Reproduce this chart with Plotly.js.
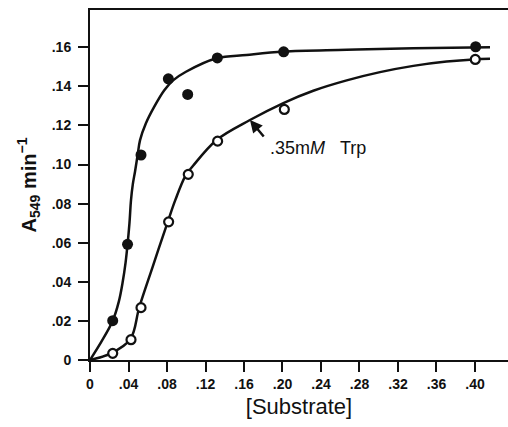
<!DOCTYPE html>
<html>
<head>
<meta charset="utf-8">
<script src="https://cdn.plot.ly/plotly-3.0.1.min.js"></script>
<style>html,body{margin:0;padding:0;background:#fff;}#chart{width:508px;height:427px;}</style>
</head>
<body>
<div id="chart"></div>
<script>
// Measured points
var ctrlX = [0.0236, 0.039, 0.053, 0.0814, 0.1015, 0.1323, 0.2012, 0.4007];
var ctrlY = [0.0201, 0.0592, 0.1049, 0.1439, 0.1359, 0.1546, 0.1577, 0.1603];
var trpX = [0.0236, 0.0426, 0.053, 0.0817, 0.1021, 0.1326, 0.2019, 0.4003];
var trpY = [0.0034, 0.0104, 0.0268, 0.0707, 0.095, 0.112, 0.1282, 0.1538];

// Fitted curves
var ctrlCurveX = [0, 0.012, 0.0236, 0.030, 0.034, 0.037, 0.039, 0.041, 0.0426, 0.0445, 0.0468, 0.0495, 0.052, 0.058, 0.0668, 0.0772, 0.0866, 0.0997, 0.1316, 0.1627, 0.2009, 0.2667, 0.3359, 0.4156];
var ctrlCurveY = [0, 0.0095, 0.0201, 0.030, 0.040, 0.050, 0.059, 0.070, 0.0818, 0.090, 0.0965, 0.1049, 0.1125, 0.121, 0.1296, 0.138, 0.1432, 0.1475, 0.1544, 0.1561, 0.1578, 0.1587, 0.1595, 0.160];
var trpCurveX = [0, 0.0218, 0.0419, 0.0512, 0.0651, 0.0807, 0.0886, 0.0989, 0.1073, 0.1316, 0.1662, 0.2009, 0.232, 0.2667, 0.3013, 0.3359, 0.3705, 0.3983, 0.4156];
var trpCurveY = [0, 0.0034, 0.0106, 0.027, 0.0477, 0.0706, 0.0818, 0.094, 0.0995, 0.1126, 0.1228, 0.1315, 0.1378, 0.1431, 0.1473, 0.1505, 0.1527, 0.1538, 0.1541];

var xTickVals = [0, 0.04, 0.08, 0.12, 0.16, 0.20, 0.24, 0.28, 0.32, 0.36, 0.40];
var xTickText = ["0", ".04", ".08", ".12", ".16", ".20", ".24", ".28", ".32", ".36", ".40"];
var yTickVals = [0, 0.02, 0.04, 0.06, 0.08, 0.10, 0.12, 0.14, 0.16];
var yTickText = ["0", ".02", ".04", ".06", ".08", ".10", ".12", ".14", ".16"];

var labelText = ".35m<i>M</i>\u00a0\u00a0\u00a0Trp";
var arrowTip = [0.1662, 0.1228];
var labelPos = [0.1849, 0.1085];

var tickFont = {family: "Liberation Sans, Arial, sans-serif", size: 14, color: "#111", weight: "bold"};

var traces = [
  {x: ctrlCurveX, y: ctrlCurveY, mode: "lines", line: {color: "#111", width: 2.5, shape: "spline", smoothing: 1}, hoverinfo: "skip"},
  {x: trpCurveX, y: trpCurveY, mode: "lines", line: {color: "#111", width: 2.5, shape: "spline", smoothing: 1}, hoverinfo: "skip"},
  {x: ctrlX, y: ctrlY, mode: "markers", marker: {symbol: "circle", size: 11, color: "#111", line: {width: 0}}},
  {x: trpX, y: trpY, mode: "markers", marker: {symbol: "circle", size: 9, color: "#fff", line: {color: "#111", width: 2.2}}}
];

var layout = {
  width: 508, height: 427,
  margin: {l: 90, r: 0, t: 10, b: 67},
  showlegend: false,
  paper_bgcolor: "#fff", plot_bgcolor: "#fff",
  xaxis: {
    range: [0, 0.4343], showgrid: false, zeroline: false,
    showline: true, linecolor: "#111", linewidth: 2, mirror: true,
    ticks: "outside", ticklen: 10, tickwidth: 2, tickcolor: "#111",
    tickvals: xTickVals, ticktext: xTickText, tickfont: tickFont,
    title: {text: "[Substrate]", font: {family: "Liberation Sans, Arial, sans-serif", size: 22, color: "#111"}, standoff: 8}
  },
  yaxis: {
    range: [0, 0.1791], showgrid: false, zeroline: false,
    showline: true, linecolor: "#111", linewidth: 2, mirror: false,
    ticks: "outside", ticklen: 10, tickwidth: 2, tickcolor: "#111",
    tickvals: yTickVals, ticktext: yTickText, tickfont: tickFont,
    ticklabelstandoff: 4,
    title: {text: "A<sub>549</sub> min<sup>\u22121</sup>", font: {family: "Liberation Sans, Arial, sans-serif", size: 20, color: "#111", weight: "bold"}, standoff: 10}
  },
  annotations: [
    {x: arrowTip[0], y: arrowTip[1], xref: "x", yref: "y", text: "", showarrow: true,
     ax: 15, ay: 18, arrowhead: 2, arrowsize: 1, arrowwidth: 2.5, arrowcolor: "#111", standoff: 0},
    {x: labelPos[0], y: labelPos[1], xref: "x", yref: "y", text: labelText, showarrow: false,
     xanchor: "left", yanchor: "middle", font: {family: "Liberation Sans, Arial, sans-serif", size: 18, color: "#111"}}
  ]
};

Plotly.newPlot("chart", traces, layout, {staticPlot: true, displayModeBar: false});
</script>
</body>
</html>
